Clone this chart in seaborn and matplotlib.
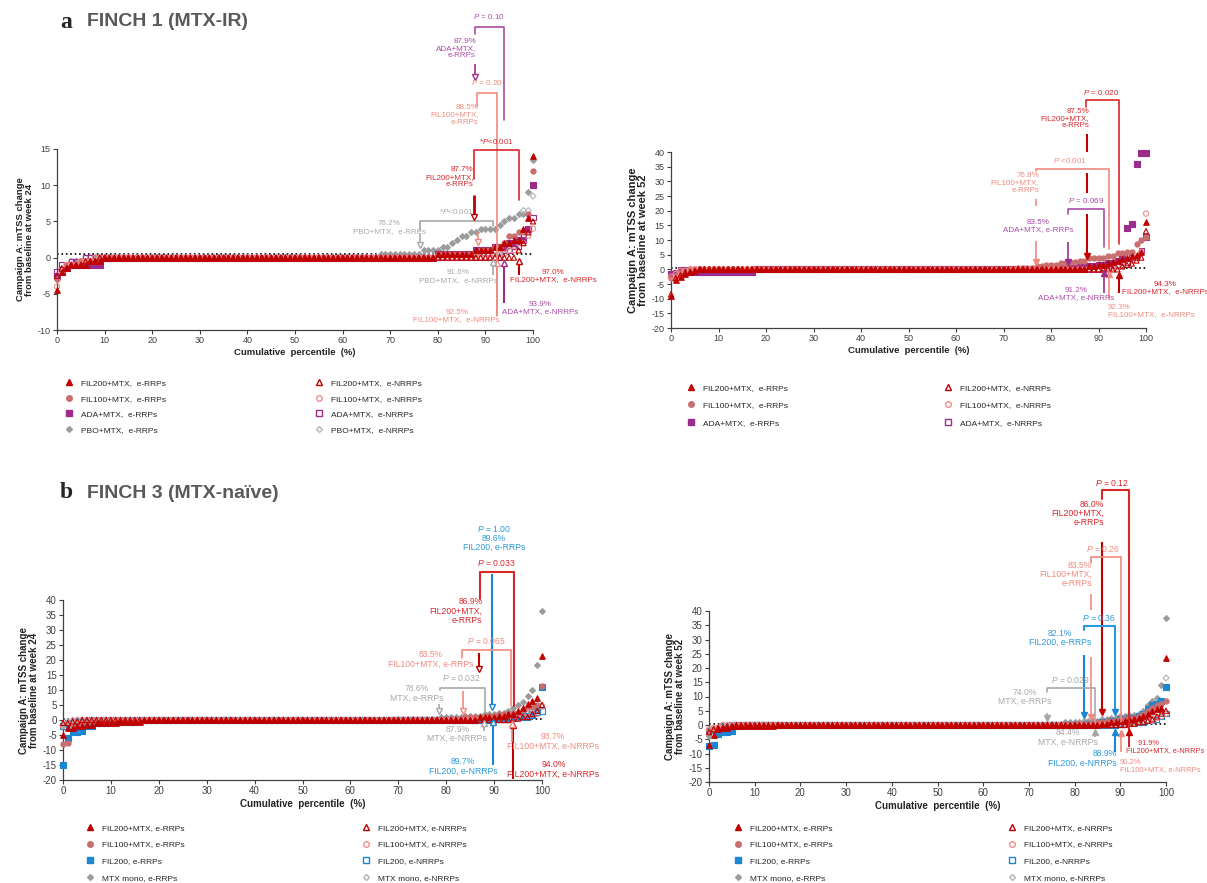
import numpy as np
import pandas as pd
import matplotlib
matplotlib.use("Agg")
import matplotlib.pyplot as plt
from matplotlib.lines import Line2D
import seaborn as sns

# cumulative percentile grid (%)
PCT = np.arange(0, 101)

# each series: runs of (start percentile, mTSS change)
# ---- FINCH 1, week 24 ----
F1W24_FIL200_RRP = [(0, -4.5), (1, -2), (2, -1.5), (3, -1), (7, -0.5), (10, 0), (80, 0.5), (88, 1),
                    (92, 1.5), (94, 2), (96, 2.5), (98, 4), (99, 5.5), (100, 14)]
F1W24_FIL200_NRRP = [(0, -2.5), (1, -1.5), (3, -1), (6, -0.5), (9, 0), (97, 1), (98, 2), (99, 3.5), (100, 5)]
F1W24_FIL100_RRP = [(0, -3), (1, -2), (2, -1), (5, -0.5), (9, 0), (80, 0.5), (89, 1), (92, 1.5), (94, 2),
                    (95, 3), (97, 3.5), (99, 6), (100, 12)]
F1W24_FIL100_NRRP = [(0, -4), (1, -2), (2, -1), (5, -0.5), (8, 0), (93, 0.5), (95, 1), (97, 2), (99, 3), (100, 4)]
F1W24_ADA_RRP = [(0, -2.5), (1, -2), (2, -1.5), (3, -1), (10, 0), (80, 0.5), (88, 1), (92, 1.5), (95, 2),
                 (97, 2.5), (99, 4), (100, 10)]
F1W24_ADA_NRRP = [(0, -2), (1, -1), (3, -0.5), (6, 0), (94, 1), (96, 1.5), (98, 3), (99, 4), (100, 5.5)]
F1W24_PBO_RRP = [(0, -3), (1, -2), (2, -1), (4, -0.5), (8, 0), (68, 0.5), (77, 1), (81, 1.5), (83, 2), (84, 2.5),
                 (85, 3), (87, 3.5), (89, 4), (93, 4.5), (94, 5), (95, 5.5), (97, 6), (99, 9), (100, 13.5)]
F1W24_PBO_NRRP = [(0, -2.5), (1, -1.5), (3, -0.5), (6, 0), (92, 1), (95, 1.5), (97, 3), (98, 6.5), (100, 8.5)]

# ---- FINCH 1, week 52 ----
F1W52_FIL200_RRP = [(0, -9), (1, -3.5), (2, -2.5), (3, -1.5), (4, -1), (5, -0.5), (6, 0), (88, 1), (90, 1.5),
                    (92, 2), (93, 2.5), (94, 3), (95, 3.5), (96, 4), (97, 4.5), (98, 5), (99, 6), (100, 16)]
F1W52_FIL200_NRRP = [(0, -8.5), (1, -3), (2, -2), (3, -1), (5, -0.5), (6, 0), (95, 1), (96, 1.5), (97, 2),
                     (98, 3), (99, 4), (100, 13)]
F1W52_FIL100_RRP = [(0, -3), (1, -2), (2, -1), (4, 0), (73, 0.5), (77, 1), (79, 1.5), (82, 2), (84, 2.5), (86, 3),
                    (88, 4), (92, 4.5), (94, 5.5), (96, 6), (98, 8.5), (99, 10), (100, 11)]
F1W52_FIL100_NRRP = [(0, -2.5), (1, -1.5), (2, -0.5), (4, 0), (92, 0.5), (94, 1), (96, 2), (97, 3), (98, 4),
                     (99, 6), (100, 19)]
F1W52_ADA_RRP = [(0, -2), (1, -1.5), (2, -1), (18, 0), (84, 0.5), (86, 1), (90, 1.5), (92, 2), (94, 3), (95, 4),
                 (96, 14), (97, 15.5), (98, 36), (99, 39.5)]
F1W52_ADA_NRRP = [(0, -1.5), (1, -1), (2, 0), (91, 0.5), (93, 1.5), (95, 2.5), (97, 4), (99, 6.5), (100, 11)]

# ---- FINCH 3, week 24 ----
F3W24_FIL200MTX_RRP = [(0, -5), (1, -2.5), (3, -2), (5, -1.5), (7, -1), (12, -0.5), (17, 0), (87, 1), (91, 1.5),
                       (93, 2), (95, 3), (96, 4), (97, 5.5), (98, 6.5), (99, 7.5), (100, 21.5)]
F3W24_FIL200MTX_NRRP = [(0, -1), (2, -0.5), (4, 0), (94, 0.5), (96, 1), (98, 2), (99, 3), (100, 5)]
F3W24_FIL100MTX_RRP = [(0, -8), (1, -7.5), (2, -2), (4, -1), (6, -0.5), (10, 0), (80, 0.5), (84, 1), (88, 1.5),
                       (91, 2), (94, 2.5), (96, 3.5), (97, 4.5), (99, 5), (100, 11.5)]
F3W24_FIL100MTX_NRRP = [(0, -2), (1, -1), (3, 0), (94, 0.5), (96, 1), (98, 2), (100, 4.5)]
F3W24_FIL200_RRP = [(0, -15), (1, -6), (2, -4), (4, -3.5), (5, -2), (7, -1), (10, -0.5), (16, 0), (90, 0.5),
                    (93, 1), (96, 1.5), (98, 2), (99, 3.5), (100, 11)]
F3W24_FIL200_NRRP = [(0, -2), (1, -1), (3, -0.5), (6, 0), (90, 0.5), (95, 1), (98, 1.5), (99, 2.5), (100, 3)]
F3W24_MTX_RRP = [(0, -1.5), (1, -1), (3, 0), (70, 0.5), (79, 1), (84, 1.5), (88, 2), (91, 2.5), (93, 3), (94, 4),
                 (95, 5), (96, 6), (97, 8), (98, 10), (99, 18.5), (100, 36.5)]
F3W24_MTX_NRRP = [(0, -1.5), (1, -0.5), (2, 0), (88, 0.5), (92, 1), (96, 2), (98, 3), (100, 5)]

# ---- FINCH 3, week 52 ----
F3W52_FIL200MTX_RRP = [(0, -7), (1, -3.5), (2, -1.5), (3, -1), (5, -0.5), (15, 0), (86, 0.5), (88, 1), (90, 1.5),
                       (92, 2), (94, 2.5), (95, 3), (96, 4), (97, 5), (98, 5.5), (99, 6), (100, 23.5)]
F3W52_FIL200MTX_NRRP = [(0, -2.5), (1, -1.5), (2, -1), (4, -0.5), (6, 0), (92, 0.5), (94, 1), (96, 1.5), (97, 2),
                        (98, 3), (99, 4), (100, 5)]
F3W52_FIL100MTX_RRP = [(0, -2), (1, -1.5), (3, -1), (5, -0.5), (7, 0), (80, 0.5), (84, 1), (87, 1.5), (90, 2),
                       (92, 2.5), (94, 3), (95, 4), (96, 5), (97, 6), (98, 7), (99, 7.5), (100, 8.5)]
F3W52_FIL100MTX_NRRP = [(0, -1.5), (1, -1), (3, 0), (91, 0.5), (94, 1), (96, 1.5), (98, 2.5), (99, 3), (100, 4)]
F3W52_FIL200_RRP = [(0, -7.5), (1, -7), (2, -3), (3, -2.5), (5, -2), (6, -0.5), (8, 0), (83, 0.5), (86, 1),
                    (88, 1.5), (90, 2), (92, 2.5), (94, 3), (95, 4), (96, 5.5), (97, 7), (98, 7.5), (99, 8.5),
                    (100, 13.5)]
F3W52_FIL200_NRRP = [(0, -2), (1, -1.5), (3, -0.5), (5, 0), (90, 0.5), (94, 1), (96, 1.5), (98, 2), (99, 3),
                     (100, 4)]
F3W52_MTX_RRP = [(0, -4), (1, -2), (2, -1), (4, 0), (74, 0.5), (78, 1), (82, 1.5), (86, 2), (88, 2.5), (90, 3),
                 (92, 3.5), (94, 4), (95, 5), (96, 7), (97, 8.5), (98, 9.5), (99, 14), (100, 37.5)]
F3W52_MTX_NRRP = [(0, -2), (1, -1), (3, 0), (85, 0.5), (90, 1), (94, 1.5), (97, 2.5), (98, 4), (99, 5), (100, 16.5)]

# colours
RED, RED_T = "#C00000", "#D9262B"
ROSE, ROSE_O, ROSE_T = "#C96E6E", "#F08C8C", "#F08A7E"
PURPLE, PURPLE_T = "#9B2C8C", "#A94BA5"
GRAY, GRAY_O, GRAY_T = "#9C9C9C", "#B4B4B4", "#A8A8A8"
BLUE, BLUE_T = "#1B87D2", "#2A98DC"

sns.set_style("ticks")
plt.rcParams["font.family"] = ["Liberation Sans", "DejaVu Sans"]
plt.rcParams["axes.unicode_minus"] = False
plt.rcParams["mathtext.fontset"] = "custom"
plt.rcParams["mathtext.it"] = "Liberation Sans:italic"
plt.rcParams["mathtext.rm"] = "Liberation Sans"

W, H = 1207, 883
fig = plt.figure(figsize=(W / 100, H / 100), dpi=100)


def add_axes(left, right, top, bottom):
    return fig.add_axes([left / W, 1 - bottom / H, (right - left) / W, (bottom - top) / H])


def expand(runs):
    starts = np.array([r[0] for r in runs])
    vals = np.array([r[1] for r in runs])
    return vals[np.searchsorted(starts, PCT, side="right") - 1]


def draw_series(ax, runs, marker, color, hollow, size):
    df = pd.DataFrame({"pct": PCT, "change": expand(runs)})
    sns.scatterplot(data=df, x="pct", y="change", ax=ax, marker=marker, s=size, color=color,
                    edgecolor=color, facecolors="none" if hollow else color,
                    linewidth=0.8, clip_on=False, zorder=3, legend=False)


def setup(ax, ylim, week, fs, xlab_fs, ylab_fs):
    ax.plot([0, 100], [0.5, 0.5], ls=":", color="black", lw=1.2, zorder=2, clip_on=False)
    ax.set_xlim(0, 100)
    ax.set_ylim(*ylim)
    ax.set_xticks(range(0, 101, 10))
    ax.set_yticks(np.arange(ylim[0], ylim[1] + 1, 5))
    sns.despine(ax=ax)
    for side in ("left", "bottom"):
        ax.spines[side].set_color("#404040")
        ax.spines[side].set_linewidth(0.9)
    ax.tick_params(length=3, width=0.8, labelsize=fs, colors="#404040", pad=1.5)
    ax.set_xlabel("Cumulative  percentile  (%)", fontsize=xlab_fs, fontweight="bold", labelpad=2,
                  color="#222222")
    ax.set_ylabel("Campaign A: mTSS change\nfrom baseline at week %d" % week, fontsize=ylab_fs,
                  fontweight="bold", labelpad=3, color="#222222", linespacing=1.0)


def txt(ax, x, y, s, c, ha="center", fs=5.8):
    ax.text(x, y, s, color=c, ha=ha, va="center", fontsize=fs, linespacing=1.05, clip_on=False, zorder=8)


def seg(ax, x, y0, y1, c, lw=1.2):
    ax.plot([x, x], [y0, y1], color=c, lw=lw, clip_on=False, zorder=6, solid_capstyle="butt")


def arr(ax, x, y0, y1, c, filled=False, lw=1.2, ms=4.5):
    seg(ax, x, y0, y1, c, lw)
    ax.plot(x, y1, marker="v" if y1 < y0 else "^", ms=ms, mfc=c if filled else "white", mec=c,
            mew=1.0, clip_on=False, zorder=7)


def brk(ax, x1, x2, ytop, yl, yr, c, lw=1.2):
    ax.plot([x1, x1, x2, x2], [yl, ytop, ytop, yr], color=c, lw=lw, clip_on=False, zorder=6)


def legend(entries, x_marker, y_top, fs, spacing):
    handles = [Line2D([], [], ls="none", marker=m, color=c, mfc="none" if h else c, mec=c, ms=m_s, mew=1)
               for _, m, c, h, m_s in entries]
    labels = [e[0] for e in entries]
    fig.legend(handles, labels, loc="upper left", bbox_to_anchor=((x_marker - 6) / W, 1 - y_top / H),
               frameon=False, fontsize=fs, handlelength=1.0, handletextpad=0.9, borderpad=0,
               borderaxespad=0, labelspacing=spacing)


# ---------------- panel a, week 24 ----------------
ax = add_axes(57, 533, 149, 330)
draw_series(ax, F1W24_PBO_RRP, "D", GRAY, False, 9)
draw_series(ax, F1W24_PBO_NRRP, "D", GRAY_O, True, 9)
draw_series(ax, F1W24_ADA_RRP, "s", PURPLE, False, 16)
draw_series(ax, F1W24_ADA_NRRP, "s", PURPLE, True, 14)
draw_series(ax, F1W24_FIL100_RRP, "o", ROSE, False, 14)
draw_series(ax, F1W24_FIL100_NRRP, "o", ROSE_O, True, 14)
draw_series(ax, F1W24_FIL200_RRP, "^", RED, False, 16)
draw_series(ax, F1W24_FIL200_NRRP, "^", RED, True, 14)
setup(ax, (-10, 15), 24, 6.5, 6.8, 6.8)

txt(ax, 88.0, 28.9, "87.9%\nADA+MTX,\ne-RRPs", PURPLE_T, "right")
arr(ax, 87.9, 26.7, 25.0, PURPLE)
brk(ax, 87.9, 94.0, 31.8, 30.9, 19.0, PURPLE_T)
txt(ax, 90.8, 33.3, "$P$ = 0.10", PURPLE_T)
arr(ax, 93.9, -6.3, -0.8, PURPLE, lw=1.5)
txt(ax, 101.5, -7.0, "93.9%\nADA+MTX, e-NRRPs", PURPLE_T)

txt(ax, 88.6, 19.7, "88.5%\nFIL100+MTX,\ne-RRPs", ROSE_T, "right")
arr(ax, 88.5, 3.6, 2.2, ROSE_T)
brk(ax, 88.2, 92.5, 22.8, 21.0, -8.1, ROSE_T)
arr(ax, 92.5, -8.1, -0.7, ROSE_T)
txt(ax, 90.3, 24.2, "$P$ = 0.20", ROSE_T)
txt(ax, 84.0, -8.1, "92.5%\nFIL100+MTX,  e-NRRPs", ROSE_T)

txt(ax, 87.5, 11.1, "87.7%\nFIL200+MTX,\ne-RRPs", RED_T, "right")
arr(ax, 87.7, 8.7, 5.6, RED, lw=2.0)
brk(ax, 87.7, 97.0, 14.9, 10.8, 8.0, RED_T)
txt(ax, 92.3, 16.0, "*$P$<0.001", RED_T)
arr(ax, 97.0, -2.4, -0.5, RED, lw=1.5)
txt(ax, 104.2, -2.5, "97.0%\nFIL200+MTX,  e-NRRPs", RED_T)

txt(ax, 69.8, 4.15, "76.2%\nPBO+MTX,  e-RRPs", GRAY_T)
arr(ax, 76.2, 3.4, 1.7, GRAY_T)
brk(ax, 76.2, 91.6, 5.1, 3.8, 4.3, GRAY_T)
txt(ax, 84.0, 6.4, "*$P$<0.001", GRAY_T)
arr(ax, 91.6, -2.4, -0.6, GRAY_T)
txt(ax, 84.3, -2.6, "91.6%\nPBO+MTX,  e-NRRPs", GRAY_T)

legend([("FIL200+MTX,  e-RRPs", "^", RED, False, 4), ("FIL100+MTX,  e-RRPs", "o", ROSE, False, 4),
        ("ADA+MTX,  e-RRPs", "s", PURPLE, False, 4), ("PBO+MTX,  e-RRPs", "D", GRAY, False, 3)],
       71, 379, 6, 0.95)
legend([("FIL200+MTX,  e-NRRPs", "^", RED, True, 4), ("FIL100+MTX,  e-NRRPs", "o", ROSE_O, True, 4),
        ("ADA+MTX,  e-NRRPs", "s", PURPLE, True, 4), ("PBO+MTX,  e-NRRPs", "D", GRAY_O, True, 3)],
       321, 379, 6, 0.95)

# ---------------- panel a, week 52 ----------------
ax = add_axes(671, 1146, 152, 328)
draw_series(ax, F1W52_ADA_RRP, "s", PURPLE, False, 18)
draw_series(ax, F1W52_ADA_NRRP, "s", PURPLE, True, 14)
draw_series(ax, F1W52_FIL100_RRP, "o", ROSE, False, 14)
draw_series(ax, F1W52_FIL100_NRRP, "o", ROSE_O, True, 14)
draw_series(ax, F1W52_FIL200_RRP, "^", RED, False, 16)
draw_series(ax, F1W52_FIL200_NRRP, "^", RED, True, 14)
setup(ax, (-20, 40), 52, 6.5, 6.8, 8)

txt(ax, 90.6, 60.4, "$P$ = 0.020", RED_T)
brk(ax, 87.3, 94.3, 57.8, 55.5, 8.8, RED_T)
txt(ax, 88.0, 51.4, "87.5%\nFIL200+MTX,\ne-RRPs", RED_T, "right")
seg(ax, 87.5, 46.0, 40.0, RED, 1.5)
seg(ax, 87.5, 33.0, 26.0, RED, 1.5)
arr(ax, 87.5, 19.0, 4.5, RED, True, 1.5)
arr(ax, 94.3, -8.2, -2.0, RED, True, 1.5)
txt(ax, 104.0, -6.5, "94.3%\nFIL200+MTX,  e-NRRPs", RED_T)

txt(ax, 83.9, 37.1, "$P$ <0.001", ROSE_T)
brk(ax, 76.8, 92.3, 34.3, 33.5, 7.0, ROSE_T)
txt(ax, 77.5, 29.5, "76.8%\nFIL100+MTX,\ne-RRPs", ROSE_T, "right")
seg(ax, 76.8, 24.0, 21.5, ROSE_T)
arr(ax, 76.8, 9.7, 2.6, ROSE_T, True)
arr(ax, 92.3, -10.4, -1.5, ROSE_T, True)
txt(ax, 92.0, -14.1, "92.3%\nFIL100+MTX,  e-NRRPs", ROSE_T, "left")

txt(ax, 87.3, 23.3, "$P$ = 0.069", PURPLE_T)
brk(ax, 83.5, 91.2, 20.7, 19.0, 7.7, PURPLE_T)
txt(ax, 77.3, 14.8, "83.5%\nADA+MTX, e-RRPs", PURPLE_T)
arr(ax, 83.5, 9.4, 2.6, PURPLE, True)
arr(ax, 91.2, -8.2, -1.4, PURPLE, True)
txt(ax, 85.2, -8.4, "91.2%\nADA+MTX, e-NRRPs", PURPLE_T)

legend([("FIL200+MTX,  e-RRPs", "^", RED, False, 4), ("FIL100+MTX,  e-RRPs", "o", ROSE, False, 4),
        ("ADA+MTX,  e-RRPs", "s", PURPLE, False, 4)], 693, 384, 6, 1.15)
legend([("FIL200+MTX,  e-NRRPs", "^", RED, True, 4), ("FIL100+MTX,  e-NRRPs", "o", ROSE_O, True, 4),
        ("ADA+MTX,  e-NRRPs", "s", PURPLE, True, 4)], 950, 384, 6, 1.15)

# ---------------- panel b, week 24 ----------------
ax = add_axes(63, 542, 600, 780)
draw_series(ax, F3W24_MTX_RRP, "D", GRAY, False, 9)
draw_series(ax, F3W24_MTX_NRRP, "D", GRAY_O, True, 9)
draw_series(ax, F3W24_FIL200_RRP, "s", BLUE, False, 14)
draw_series(ax, F3W24_FIL200_NRRP, "s", BLUE, True, 14)
draw_series(ax, F3W24_FIL100MTX_RRP, "o", ROSE, False, 14)
draw_series(ax, F3W24_FIL100MTX_NRRP, "o", ROSE_O, True, 14)
draw_series(ax, F3W24_FIL200MTX_RRP, "^", RED, False, 16)
draw_series(ax, F3W24_FIL200MTX_NRRP, "^", RED, True, 14)
setup(ax, (-20, 40), 24, 7, 7, 7)

FB = 6.2
txt(ax, 90.0, 60.7, "$P$ = 1.00\n89.6%\nFIL200, e-RRPs", BLUE_T, fs=FB)
arr(ax, 89.6, 48.8, 4.2, BLUE, lw=1.5)
arr(ax, 89.7, -15.1, -0.8, BLUE, lw=1.5)
txt(ax, 83.5, -15.5, "89.7%\nFIL200, e-NRRPs", BLUE_T, fs=FB)

txt(ax, 90.4, 52.4, "$P$ = 0.033", RED_T, fs=FB)
brk(ax, 87.0, 94.2, 49.4, 40.5, 4.7, RED_T, 1.5)
txt(ax, 87.6, 36.3, "86.9%\nFIL200+MTX,\ne-RRPs", RED_T, "right", fs=FB)
arr(ax, 86.9, 22.4, 16.9, RED, lw=1.5)
arr(ax, 94.0, -19.5, -1.5, RED, lw=1.5)
txt(ax, 102.4, -16.5, "94.0%\nFIL200+MTX, e-NRRPs", RED_T, fs=FB)

txt(ax, 88.4, 26.2, "$P$ = 0.065", ROSE_T, fs=FB)
brk(ax, 83.4, 93.6, 23.5, 20.7, 4.7, ROSE_T)
txt(ax, 76.7, 20.2, "83.5%\nFIL100+MTX, e-RRPs", ROSE_T, fs=FB)
arr(ax, 83.5, 9.7, 3.1, ROSE_T)
arr(ax, 93.7, -7.4, -1.3, ROSE_T)
txt(ax, 102.3, -7.1, "93.7%\nFIL100+MTX, e-NRRPs", ROSE_T, fs=FB)

txt(ax, 83.1, 13.9, "$P$ = 0.032", GRAY_T, fs=FB)
brk(ax, 78.7, 88.0, 10.8, 10.0, 2.5, GRAY_T)
txt(ax, 73.9, 8.8, "78.6%\nMTX, e-RRPs", GRAY_T, fs=FB)
arr(ax, 78.6, 5.5, 3.0, GRAY_T)
arr(ax, 87.9, -3.5, -1.0, GRAY_T)
txt(ax, 82.3, -4.6, "87.9%\nMTX, e-NRRPs", GRAY_T, fs=FB)

legend([("FIL200+MTX, e-RRPs", "^", RED, False, 4), ("FIL100+MTX, e-RRPs", "o", ROSE, False, 4),
        ("FIL200, e-RRPs", "s", BLUE, False, 4), ("MTX mono, e-RRPs", "D", GRAY, False, 3)],
       92, 824, 6, 1.05)
legend([("FIL200+MTX, e-NRRPs", "^", RED, True, 4), ("FIL100+MTX, e-NRRPs", "o", ROSE_O, True, 4),
        ("FIL200, e-NRRPs", "s", BLUE, True, 4), ("MTX mono, e-NRRPs", "D", GRAY_O, True, 3)],
       368, 824, 6, 1.05)

# ---------------- panel b, week 52 ----------------
ax = add_axes(709, 1166, 611, 782)
draw_series(ax, F3W52_MTX_RRP, "D", GRAY, False, 9)
draw_series(ax, F3W52_MTX_NRRP, "D", GRAY_O, True, 9)
draw_series(ax, F3W52_FIL200_RRP, "s", BLUE, False, 14)
draw_series(ax, F3W52_FIL200_NRRP, "s", BLUE, True, 14)
draw_series(ax, F3W52_FIL100MTX_RRP, "o", ROSE, False, 14)
draw_series(ax, F3W52_FIL100MTX_NRRP, "o", ROSE_O, True, 14)
draw_series(ax, F3W52_FIL200MTX_RRP, "^", RED, False, 16)
draw_series(ax, F3W52_FIL200MTX_NRRP, "^", RED, True, 14)
setup(ax, (-20, 40), 52, 7, 7, 7)

txt(ax, 88.1, 85.0, "$P$ = 0.12", RED_T, fs=FB)
brk(ax, 86.0, 91.9, 82.4, 79.4, -2.3, RED_T, 1.5)
txt(ax, 86.4, 74.2, "86.0%\nFIL200+MTX,\ne-RRPs", RED_T, "right", fs=FB)
arr(ax, 86.0, 64.3, 4.7, RED, True, 1.5)
arr(ax, 91.9, -7.6, -2.3, RED, True)
txt(ax, 91.2, -7.6, "      91.9%\nFIL200+MTX, e-NRRPs", RED_T, "left", fs=5.3)

txt(ax, 86.3, 61.7, "$P$ = 0.26", ROSE_T, fs=FB)
brk(ax, 83.5, 90.2, 58.8, 56.7, 1.2, ROSE_T)
txt(ax, 83.8, 52.8, "83.5%\nFIL100+MTX,\ne-RRPs", ROSE_T, "right", fs=FB)
seg(ax, 83.5, 46.1, 40.3, ROSE_T)
arr(ax, 83.5, 23.9, 2.9, ROSE_T, True)
arr(ax, 90.2, -9.3, -2.9, ROSE_T, True)
txt(ax, 89.9, -14.3, "90.2%\nFIL100+MTX, e-NRRPs", ROSE_T, "left", fs=5.5)

txt(ax, 85.4, 37.6, "$P$ = 0.36", BLUE_T, fs=FB)
brk(ax, 82.1, 88.9, 34.8, 33.3, 4.7, BLUE_T, 1.5)
ax.plot(88.9, 4.7, marker="v", ms=4.5, color=BLUE, clip_on=False, zorder=7)
txt(ax, 76.8, 30.5, "82.1%\nFIL200, e-RRPs", BLUE_T, fs=FB)
arr(ax, 82.1, 24.5, 3.5, BLUE, True, 1.5)
arr(ax, 88.9, -9.3, -2.3, BLUE, True, 1.5)
txt(ax, 89.2, -11.8, "88.9%\nFIL200, e-NRRPs", BLUE_T, "right", fs=FB)

txt(ax, 79.1, 15.8, "$P$ = 0.029", GRAY_T, fs=FB)
brk(ax, 74.0, 84.4, 12.9, 11.7, 1.2, GRAY_T)
txt(ax, 69.0, 9.9, "74.0%\nMTX, e-RRPs", GRAY_T, fs=FB)
arr(ax, 74.0, 4.1, 2.3, GRAY_T, True)
arr(ax, 84.4, -4.1, -2.3, GRAY_T, True)
txt(ax, 78.5, -4.4, "84.4%\nMTX, e-NRRPs", GRAY_T, fs=FB)

legend([("FIL200+MTX, e-RRPs", "^", RED, False, 4), ("FIL100+MTX, e-RRPs", "o", ROSE, False, 4),
        ("FIL200, e-RRPs", "s", BLUE, False, 4), ("MTX mono, e-RRPs", "D", GRAY, False, 3)],
       740, 824, 6, 1.05)
legend([("FIL200+MTX, e-NRRPs", "^", RED, True, 4), ("FIL100+MTX, e-NRRPs", "o", ROSE_O, True, 4),
        ("FIL200, e-NRRPs", "s", BLUE, True, 4), ("MTX mono, e-NRRPs", "D", GRAY_O, True, 3)],
       1014, 824, 6, 1.05)

# panel titles
for letter, y, name in [("a", 22, "FINCH 1 (MTX-IR)"), ("b", 493, "FINCH 3 (MTX-naïve)")]:
    fig.text(60 / W, 1 - y / H, letter, fontsize=17, fontweight="bold",
             family=["Liberation Serif", "DejaVu Serif"], va="center", ha="left")
    fig.text(87 / W, 1 - y / H, name, fontsize=14, fontweight="bold", color="#595959",
             va="center", ha="left")

fig.savefig("out.png", dpi=100)
